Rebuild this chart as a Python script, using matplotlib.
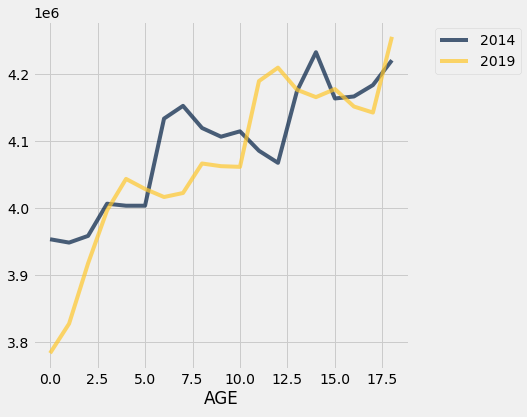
import matplotlib
matplotlib.use("Agg")
import matplotlib.pyplot as plt
import numpy as np

plt.style.use("fivethirtyeight")

ages = list(range(19))
pop_2014 = [3.954e6, 3.949e6, 3.959e6, 4.007e6, 4.004e6, 4.004e6, 4.134e6, 4.153e6,
            4.120e6, 4.107e6, 4.115e6, 4.086e6, 4.068e6, 4.175e6, 4.233e6, 4.164e6,
            4.167e6, 4.184e6, 4.221e6]
pop_2019 = [3.784e6, 3.828e6, 3.918e6, 3.997e6, 4.044e6, 4.029e6, 4.017e6, 4.023e6,
            4.067e6, 4.063e6, 4.062e6, 4.190e6, 4.210e6, 4.177e6, 4.166e6, 4.178e6,
            4.152e6, 4.143e6, 4.256e6]
series_labels = ["2014", "2019"]
colors = [(0.0, 30/256, 66/256), (1.0, 200/256, 44/256)]

DPI = 72
fig = plt.figure(figsize=(527/DPI, 417/DPI), dpi=DPI)
fig.patch.set_facecolor("#f0f0f0")
ax = fig.add_axes([33/527, 48/417, 376/527, 348/417])
for vals, lab, c in zip([pop_2014, pop_2019], series_labels, colors):
    ax.plot(ages, vals, color=c, alpha=0.7, lw=4, label=lab)
ax.set_xlabel("AGE")
ax.legend(loc="upper left", bbox_to_anchor=(1.05, 1))
fig.savefig("out.png", dpi=DPI, facecolor=fig.get_facecolor())
